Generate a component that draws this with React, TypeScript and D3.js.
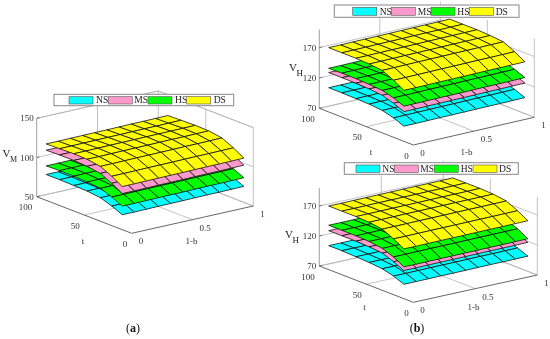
import * as d3 from 'd3';

const tValues = [10, 21, 33, 47, 61, 76, 90];
const bValues = [0, 0.1, 0.2, 0.3, 0.4, 0.5, 0.6, 0.7, 0.8, 0.9, 1];
// small rise of every surface along 1-b
const bRise = [0, 0, 0.2, 0.4, 0.5, 0.6, 0.8, 1, 1, 1.2, 1.4];

const seriesNames = ['NS', 'MS', 'HS', 'DS'];
const seriesColors = ['#00ffff', '#ff99cc', '#00ff00', '#ffff00'];

// V over t, per stress level
const vmNS = [69, 75, 80, 82, 82.5, 83, 83];
const vmMS = [96, 104, 111, 113.5, 114.5, 114.5, 114];
const vmHS = [80, 86.5, 92, 93.5, 94.5, 94.5, 94];
const vmDS = [105, 113, 120, 122.5, 123, 122.5, 122];

const vh1NS = [95, 102, 107, 109, 109.5, 110, 110];
const vh1MS = [119, 126, 132, 134, 135, 135, 135];
const vh1HS = [128, 135, 140, 141.5, 142.5, 142.5, 142];
const vh1DS = [154, 164, 173, 175, 176, 176, 176];

const vh2NS = [94, 101, 106, 108, 109, 110, 110];
const vh2MS = [117, 125, 132, 134, 135, 135, 135];
const vh2HS = [123, 133, 140, 143, 144, 144, 144];
const vh2DS = [153, 163, 172, 175, 176, 176, 176];

const panels = [
  {
    origin: [131.7, 233.3], uEnd: [253.3, 206], tEnd: [36.7, 196.7],
    zDomain: [50, 150], zPx: 78.4, zTicks: [50, 100, 150], topLines: true,
    series: [vmNS, vmMS, vmHS, vmDS],
    sub: 'M', subSize: 8, labelPos: [2.5, 157], tLabel: [83, 241], bLabel: [191.5, 241],
    legend: { box: [54, 94.3, 233.7, 105.7], swatchY: [96.7, 104], swatchX: [69, 108.3, 148, 186.7], textX: [96, 134.3, 175, 213.7] },
  },
  {
    origin: [413.3, 145], uEnd: [534.3, 117.3], tEnd: [319.3, 108.3],
    zDomain: [70, 200], zPx: 78.9, zTicks: [70, 120, 170], topLines: false,
    series: [vh1NS, vh1MS, vh1HS, vh1DS],
    sub: 'H', subSize: 9, labelPos: [289, 71], tLabel: [371, 151.5], bLabel: [466.5, 151.5],
    legend: { box: [334.3, 5, 519, 17.3], swatchY: [7.3, 15.3], swatchX: [352.7, 391.3, 431, 469.3], textX: [379.7, 417.7, 457.3, 495.7] },
  },
  {
    origin: [413.3, 302.3], uEnd: [537.3, 275], tEnd: [319.3, 266],
    zDomain: [70, 200], zPx: 78, zTicks: [70, 120, 170], topLines: false,
    series: [vh2NS, vh2MS, vh2HS, vh2DS],
    sub: 'H', subSize: 9, labelPos: [285, 238], tLabel: [364.5, 307], bLabel: [473.5, 307],
    legend: { box: [344.3, 162.7, 518.3, 174.3], swatchY: [165, 172.5], swatchX: [356, 394.3, 434.3, 473], textX: [382.3, 420.3, 460.7, 499] },
  },
];

const serif = '"Liberation Serif", serif';
const polygon = d3.line().curve(d3.curveLinearClosed);

function Panel({ panel }: { panel: (typeof panels)[number] }) {
  const { origin, uEnd, tEnd, zDomain, zPx, zTicks, series, legend, topLines } = panel;
  const ux = d3.scaleLinear().domain([0, 1]).range([0, uEnd[0] - origin[0]]);
  const uy = d3.scaleLinear().domain([0, 1]).range([0, uEnd[1] - origin[1]]);
  const tx = d3.scaleLinear().domain([0, 100]).range([0, tEnd[0] - origin[0]]);
  const ty = d3.scaleLinear().domain([0, 100]).range([0, tEnd[1] - origin[1]]);
  const zy = d3.scaleLinear().domain(zDomain).range([0, -zPx]);
  const project = (u: number, t: number, z: number): [number, number] => [
    origin[0] + ux(u) + tx(t),
    origin[1] + uy(u) + ty(t) + zy(z),
  ];
  const [zMin, zMax] = zDomain;
  const seg = (a: [number, number], b: [number, number], stroke: string, w = 0.8) => (
    <line x1={a[0]} y1={a[1]} x2={b[0]} y2={b[1]} stroke={stroke} strokeWidth={w} />
  );
  const wall = '#b4b4b4';
  const axis = '#666';

  const order = d3.range(series.length).sort((a, b) => d3.ascending(d3.mean(series[a]), d3.mean(series[b])));

  return (
    <g>
      {/* back walls and floor grid */}
      {zTicks.map((z) => (
        <g key={z}>
          {seg(project(0, 100, z), project(1, 100, z), wall)}
          {seg(project(1, 100, z), project(1, 0, z), wall)}
        </g>
      ))}
      {topLines && seg(project(0, 100, zMax), project(1, 100, zMax), wall)}
      {topLines && seg(project(1, 100, zMax), project(1, 0, zMax), wall)}
      {[0.5, 1].map((u) => <g key={u}>{seg(project(u, 100, zMin), project(u, 100, zMax), wall)}</g>)}
      {[0, 50].map((t) => <g key={t}>{seg(project(1, t, zMin), project(1, t, zMax), wall)}</g>)}
      {seg(project(0.5, 0, zMin), project(0.5, 100, zMin), wall)}
      {seg(project(0, 50, zMin), project(1, 50, zMin), wall)}
      {seg(project(0, 100, zMin), project(1, 100, zMin), wall)}
      {seg(project(1, 0, zMin), project(1, 100, zMin), wall)}

      {/* axes */}
      {seg(project(0, 0, zMin), project(1, 0, zMin), axis, 1)}
      {seg(project(0, 0, zMin), project(0, 100, zMin), axis, 1)}
      {seg(project(0, 100, zMin), project(0, 100, zMax), '#888')}

      {/* surfaces, lowest first, back to front */}
      {order.map((si) => (
        <g key={si} fill={seriesColors[si]} stroke="#111" strokeWidth={0.8} strokeLinejoin="round">
          {d3.range(tValues.length - 2, -1, -1).map((ti) =>
            d3.range(bValues.length - 1).map((bi) => {
              const corner = (i: number, j: number) => project(bValues[i], tValues[j], series[si][j] + bRise[i]);
              return (
                <path
                  key={`${ti}-${bi}`}
                  d={polygon([corner(bi, ti), corner(bi + 1, ti), corner(bi + 1, ti + 1), corner(bi, ti + 1)]) ?? ''}
                />
              );
            })
          )}
        </g>
      ))}

      {/* tick labels */}
      <g fontFamily={serif} fontSize={9} fill="#333">
        {zTicks.map((z) => {
          const [x, y] = project(0, 100, z);
          return (
            <g key={z}>
              {seg([x, y], [x + 3, y - 0.7], axis)}
              <text x={x - 3} y={y} dy="0.35em" textAnchor="end">{z}</text>
            </g>
          );
        })}
        {[0, 50, 100].map((t) => {
          const [x, y] = project(0, t, zMin);
          return <text key={t} x={x - 4.5} y={y + 10.5} dy="0.35em" textAnchor="end">{t}</text>;
        })}
        {[0, 0.5, 1].map((u) => {
          const [x, y] = project(u, 0, zMin);
          return <text key={u} x={x + 7} y={y + 8} dy="0.35em">{u}</text>;
        })}
        <text x={panel.tLabel[0]} y={panel.tLabel[1]} dy="0.35em" textAnchor="middle">t</text>
        <text x={panel.bLabel[0]} y={panel.bLabel[1]} dy="0.35em" textAnchor="middle">1-b</text>
      </g>

      {/* z label */}
      <text fontFamily={serif} fill="#222" x={panel.labelPos[0]} y={panel.labelPos[1]} fontSize={11}>V</text>
      <text fontFamily={serif} fill="#222" x={panel.labelPos[0] + 7.5} y={panel.labelPos[1] + 4.5} fontSize={panel.subSize}>{panel.sub}</text>

      {/* legend */}
      <rect
        x={legend.box[0]} y={legend.box[1]}
        width={legend.box[2] - legend.box[0]} height={legend.box[3] - legend.box[1]}
        fill="#fff" stroke="#888" strokeWidth={1}
      />
      {seriesNames.map((name, i) => (
        <g key={name}>
          <rect
            x={legend.swatchX[i]} y={legend.swatchY[0]}
            width={24} height={legend.swatchY[1] - legend.swatchY[0]}
            fill={seriesColors[i]} stroke="#555" strokeWidth={0.6}
          />
          <text x={legend.textX[i]} y={legend.box[3] - 2.5} fontFamily={serif} fontSize={9.6} fill="#222">{name}</text>
        </g>
      ))}
    </g>
  );
}

export default function App() {
  return (
    <svg width={550} height={339} style={{ position: 'absolute', left: 0, top: 0, filter: 'blur(0.3px)' }}>
      {panels.map((p, i) => <Panel key={i} panel={p} />)}
      <text x={133} y={332} textAnchor="middle" fontFamily={serif} fontSize={12} fill="#111">
        (<tspan fontWeight="bold">a</tspan>)
      </text>
      <text x={417} y={332} textAnchor="middle" fontFamily={serif} fontSize={12} fill="#111">
        (<tspan fontWeight="bold">b</tspan>)
      </text>
    </svg>
  );
}
